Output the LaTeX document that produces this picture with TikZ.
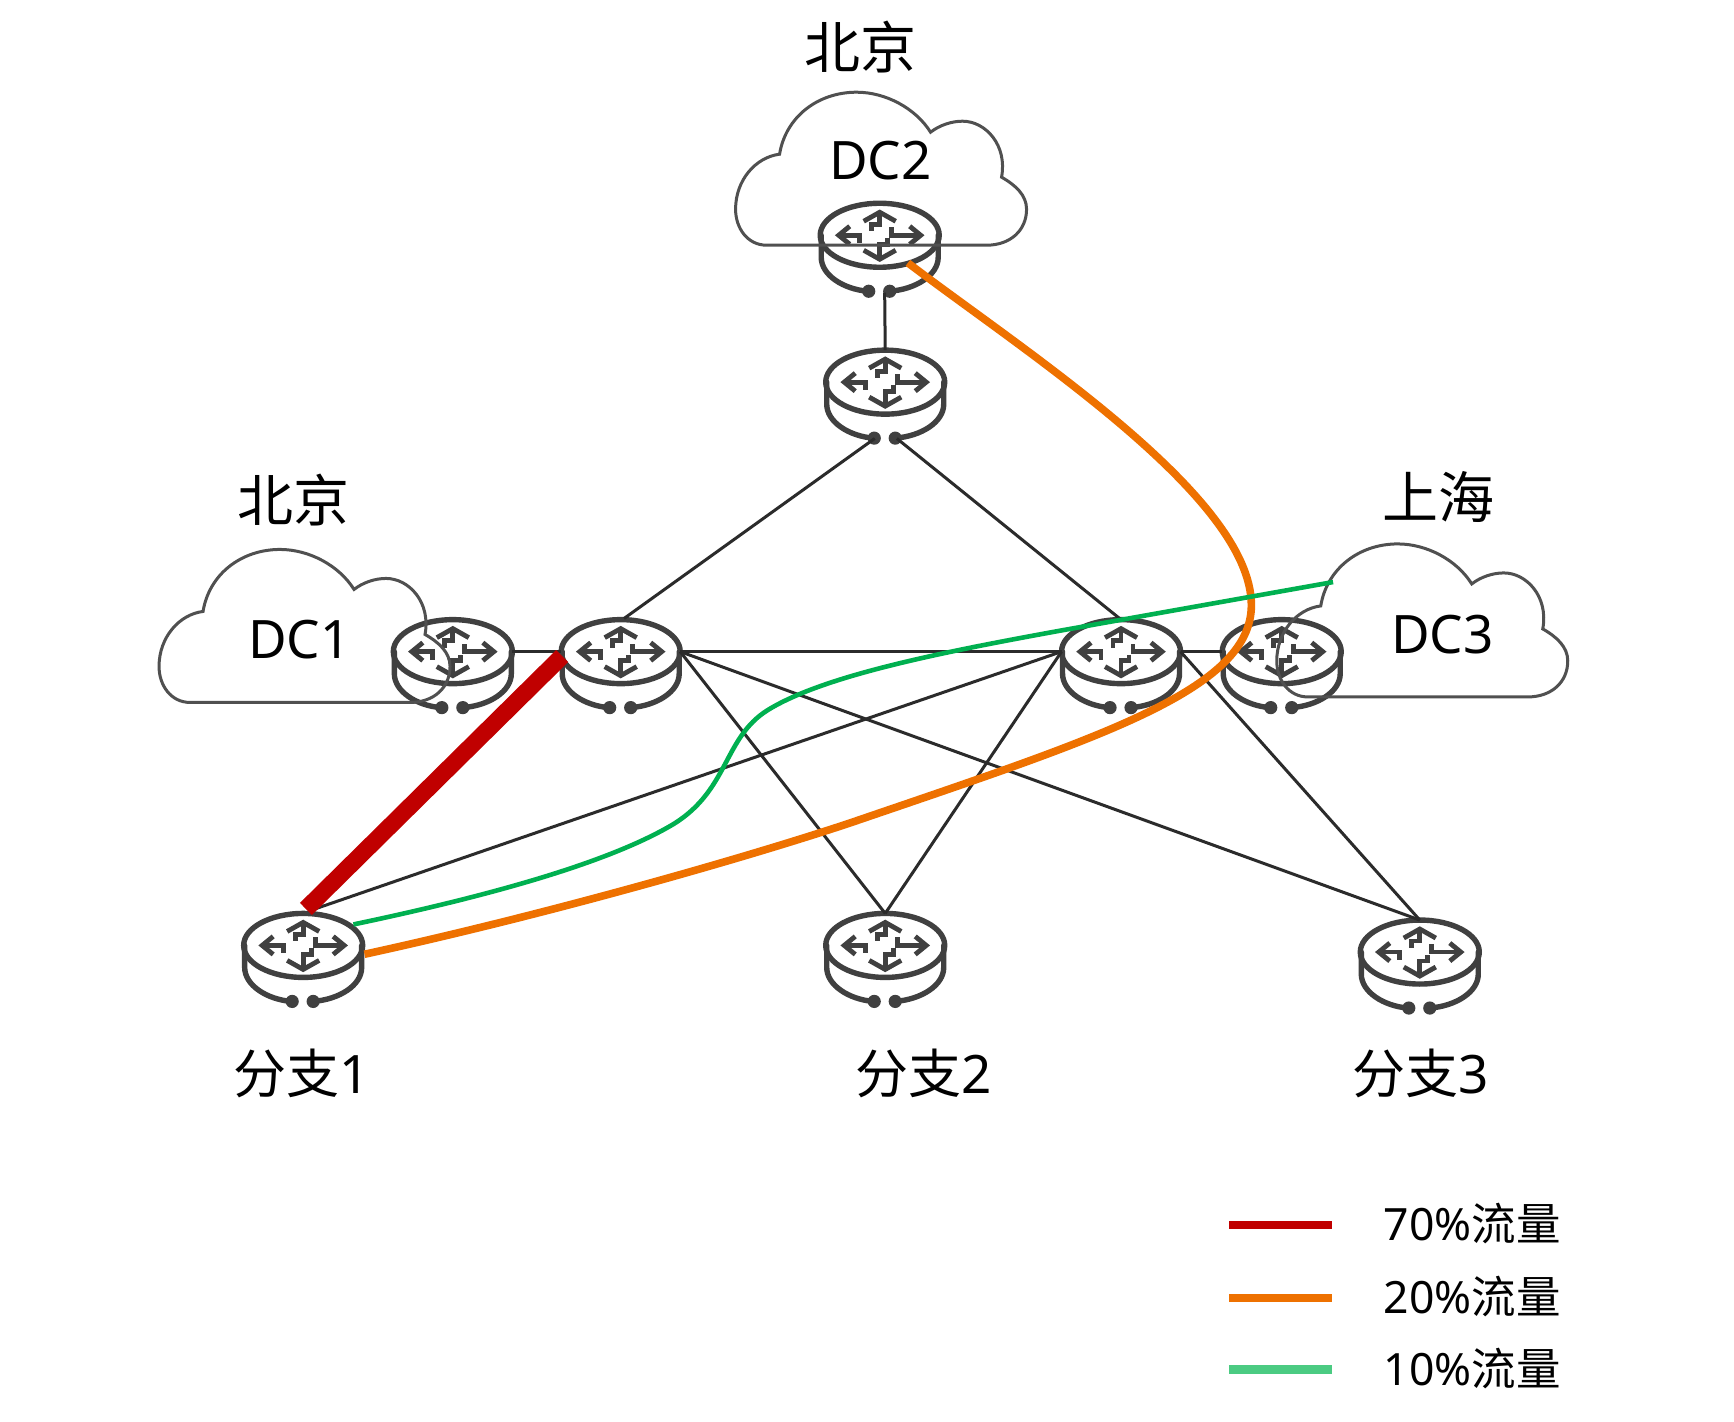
\documentclass[tikz,border=0pt]{standalone}
\usepackage{fontspec}
\setmainfont{Noto Sans}
\newfontfamily\cjk{Noto Sans CJK SC}
\usetikzlibrary{shapes.geometric}
\definecolor{rt}{HTML}{404040}
\definecolor{cl}{HTML}{505050}
\definecolor{lk}{HTML}{2B2B2B}
\definecolor{redf}{HTML}{C00000}
\definecolor{orf}{HTML}{EE7100}
\definecolor{grf}{HTML}{00B050}
\definecolor{grl}{HTML}{4BCB82}
\tikzset{
  x=1.1045pt,y=-1.1045pt,
  router/.style={ellipse,draw=rt,line width=5.4pt,minimum width=119pt,minimum height=64pt,inner sep=0pt,outer sep=0pt},
  link/.style={draw=lk,line width=3pt},
  lbl/.style={font=\fontsize{53}{58}\selectfont,text=black,inner sep=0pt},
  lblb/.style={font=\fontsize{56}{62}\selectfont,text=black,inner sep=0pt},
  lgd/.style={font=\fontsize{44.5}{50}\selectfont,text=black,inner sep=0pt},
  routerbody/.pic={
    \begin{scope}[x=1pt,y=-1pt,draw=rt,line width=5.4pt,line cap=round]
      \draw (-58.5,0) -- (-58.5,22) .. controls (-58.5,40) and (-36,54) .. (-12,56);
      \draw (58.5,0) -- (58.5,22) .. controls (58.5,40) and (36,54) .. (10,56);
      \fill[rt] (-11,56) circle (6.6pt) (10,56) circle (6.6pt);
      \begin{scope}[line width=4.8pt,line cap=butt,line join=miter]
        \draw (-30,-9) -- (-41,0) -- (-30,9);
        \draw (-41,0) -- (-20,0) -- (-20,8);
        \draw (30,-9) -- (41,0) -- (30,9);
        \draw (41,0) -- (12,0) -- (12,-8);
        \draw (-16,-14) -- (0,-23) -- (16,-14);
        \draw (0,-23) -- (0,-11) -- (-8,-11) -- (-8,-4);
        \draw (-16,15) -- (0,24) -- (16,15);
        \draw (0,24) -- (0,9) -- (8,9) -- (8,3);
      \end{scope}
    \end{scope}
  },
  cloudshape/.pic={
    \draw[x=1pt,y=-1pt,draw=cl,line width=3pt,line join=miter]
      (31,0) .. controls (12,0) and (0,-17) .. (0,-36)
      .. controls (0,-65) and (20,-88) .. (44,-91)
      .. controls (50,-128) and (82,-153) .. (121,-153)
      .. controls (150,-153) and (180,-137) .. (195,-113)
      .. controls (204,-120) and (216,-124) .. (227,-124)
      .. controls (250,-124) and (272,-100) .. (266,-68)
      .. controls (280,-60) and (291,-50) .. (291,-36)
      .. controls (291,-15) and (275,0) .. (251,0) -- cycle;
  }
}
\begin{document}
\begin{tikzpicture}
\useasboundingbox (0,0) rectangle (1570,1287.5);
\fill[white] (0,0) rectangle (1570,1287.5);
% routers
\foreach \n/\p in {DCb/{796.5,213},Mid/{801.5,346},DCa/{410,590},L/{562,590},R/{1015,590},DCc/{1160.5,590},Ba/{274.5,856},Bb/{801.5,856},Bc/{1285.5,862}}{
  \node[router] (\n) at (\p) {};
  \pic at (\n) {routerbody};
}
% named free ends
\coordinate (dcbfoot) at (801,265);
\coordinate (midl) at (792,397);
\coordinate (midr) at (812,397);
\coordinate (ltop) at (565,560);
\coordinate (baTop) at (285,823);
\coordinate (redA) at (509,594);
\coordinate (redB) at (277,823);
\coordinate (orA) at (822,238);
\coordinate (orB) at (330,864);
\coordinate (grA) at (1207,527);
\coordinate (grB) at (320,837);
% clouds
\pic at (666,222) {cloudshape};
\pic at (144,636) {cloudshape};
\pic at (1156,631) {cloudshape};
% links
\draw[link] (Mid.north) -- (dcbfoot);
\draw[link] (midl) -- (ltop);
\draw[link] (midr) -- (R.north);
\draw[link] (DCa.east) -- (L.west);
\draw[link] (L.east) -- (R.west);
\draw[link] (L.east) -- (Bb.north);
\draw[link] (L.east) -- (Bc.north);
\draw[link] (R.west) -- (baTop);
\draw[link] (R.west) -- (Bb.north);
\draw[link] (R.east) -- (DCc.west);
\draw[link] (R.east) -- (Bc.north);
% traffic
\draw[draw=redf,line width=17pt] (redA) -- (redB);
\draw[draw=orf,line width=7.6pt] (orA) .. controls (930,320) and (1133,450) .. (1133,548)
  .. controls (1133,625) and (995,668) .. (770,745)
  .. controls (680,775) and (500,827) .. (orB);
\draw[draw=grf,line width=4.6pt] (grA) -- (960,571)
  .. controls (850,591) and (745,612) .. (695,643)
  .. controls (655,668) and (660,715) .. (610,746)
  .. controls (545,785) and (420,816) .. (grB);
% labels
\node[lblb] (t1) at (779,43) {\cjk 北京};
\node[lblb] (t2) at (266,453) {\cjk 北京};
\node[lblb] (t3) at (1302,450) {\cjk 上海};
\node[lbl] (t4) at (797,145) {DC2};
\node[lbl] (t5) at (271,579) {DC1};
\node[lbl] (t6) at (1306,575) {DC3};
\node[lbl] (t7) at (273,972) {{\cjk 分支}1};
\node[lbl] (t8) at (836,972) {{\cjk 分支}2};
\node[lbl] (t9) at (1286,972) {{\cjk 分支}3};
% legend
\coordinate (la1) at (1113,1109); \coordinate (lb1) at (1206,1109);
\coordinate (la2) at (1113,1175); \coordinate (lb2) at (1206,1175);
\coordinate (la3) at (1113,1240); \coordinate (lb3) at (1206,1240);
\draw[draw=redf,line width=8.5pt] (la1) -- (lb1);
\draw[draw=orf,line width=8.5pt] (la2) -- (lb2);
\draw[draw=grl,line width=8.5pt] (la3) -- (lb3);
\node[lgd] (l1) at (1333,1108) {70\%{\cjk 流量}};
\node[lgd] (l2) at (1333,1174) {20\%{\cjk 流量}};
\node[lgd] (l3) at (1333,1239) {10\%{\cjk 流量}};
\end{tikzpicture}
\end{document}
